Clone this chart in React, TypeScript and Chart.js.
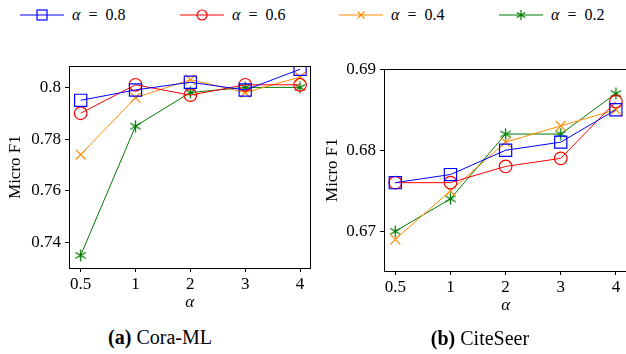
import React, { useEffect, useRef } from "react";
import { Chart, registerables } from "chart.js";

Chart.register(...registerables);

const xLabels = ["0.5", "1", "2", "3", "4"];
const seriesNames = ["α = 0.8", "α = 0.6", "α = 0.4", "α = 0.2"];
const seriesColors = ["#0000ff", "#ff0000", "#ff8c00", "#007a00"];

const coraA08 = [0.795, 0.799, 0.802, 0.799, 0.807];
const coraA06 = [0.79, 0.801, 0.797, 0.801, 0.801];
const coraA04 = [0.774, 0.796, 0.803, 0.798, 0.804];
const coraA02 = [0.735, 0.785, 0.798, 0.8, 0.8];

const citeA08 = [0.676, 0.677, 0.68, 0.681, 0.685];
const citeA06 = [0.676, 0.676, 0.678, 0.679, 0.686];
const citeA04 = [0.669, 0.675, 0.681, 0.683, 0.685];
const citeA02 = [0.67, 0.674, 0.682, 0.682, 0.687];

const coraYTicks = [0.74, 0.76, 0.78, 0.8];
const coraYLabels = ["0.74", "0.76", "0.78", "0.8"];
const citeYTicks = [0.67, 0.68, 0.69];
const citeYLabels = ["0.67", "0.68", "0.69"];

const FONT = "'Liberation Serif', 'DejaVu Serif', serif";

function makeAsterisk(color: string, size: number) {
  const c = document.createElement("canvas");
  c.width = size;
  c.height = size;
  const ctx = c.getContext("2d")!;
  ctx.strokeStyle = color;
  ctx.lineWidth = 1.3;
  const r = size / 2 - 0.5;
  const cx = size / 2;
  const cy = size / 2;
  ctx.beginPath();
  for (let k = 0; k < 3; k++) {
    const a = Math.PI / 2 + (k * Math.PI) / 3;
    ctx.moveTo(cx + r * Math.cos(a), cy + r * Math.sin(a));
    ctx.lineTo(cx - r * Math.cos(a), cy - r * Math.sin(a));
  }
  ctx.stroke();
  return c;
}

const boxPlugin = {
  id: "boxFrame",
  afterDraw(chart: any) {
    const { ctx, chartArea } = chart;
    ctx.save();
    ctx.strokeStyle = "#000";
    ctx.lineWidth = 1;
    ctx.strokeRect(
      Math.round(chartArea.left) + 0.5,
      Math.round(chartArea.top) + 0.5,
      Math.round(chartArea.right - chartArea.left),
      Math.round(chartArea.bottom - chartArea.top)
    );
    ctx.restore();
  },
};

type PanelProps = {
  series: number[][];
  yMin: number;
  yMax: number;
  yTicks: number[];
  yLabels: string[];
  xMin: number;
  xMax: number;
  yWidth: number;
  titlePad: number;
  width: number;
  height: number;
};

function Panel(p: PanelProps) {
  const ref = useRef<HTMLCanvasElement>(null);
  useEffect(() => {
    const star = makeAsterisk(seriesColors[3], 13);
    const styles: any[] = ["rect", "circle", "crossRot", star];
    const radii = [8.6, 6.3, 7, 6.5];
    const datasets = p.series.map((vals, i) => ({
      label: seriesNames[i],
      data: vals.map((v, j) => ({ x: j, y: v })),
      borderColor: seriesColors[i],
      backgroundColor: "rgba(0,0,0,0)",
      borderWidth: 1,
      pointStyle: styles[i],
      pointRadius: radii[i],
      pointBorderWidth: 1.2,
      pointBorderColor: seriesColors[i],
      pointBackgroundColor: "rgba(0,0,0,0)",
      tension: 0,
    }));
    const chart = new Chart(ref.current!, {
      type: "line",
      data: { datasets },
      options: {
        animation: false,
        responsive: false,
        maintainAspectRatio: false,
        layout: { padding: 0 },
        plugins: { legend: { display: false }, tooltip: { enabled: false } },
        scales: {
          x: {
            type: "linear",
            min: p.xMin,
            max: p.xMax,
            afterBuildTicks: (s: any) => {
              s.ticks = xLabels.map((_, i) => ({ value: i }));
            },
            afterFit: (s: any) => {
              s.height = 48;
            },
            ticks: {
              callback: (v: any) => xLabels[v as number] ?? "",
              color: "#000",
              font: { family: FONT, size: 17 },
              padding: 2,
              maxRotation: 0,
            },
            grid: {
              display: true,
              drawOnChartArea: false,
              drawTicks: true,
              tickLength: 4,
              color: "#000",
            },
            border: { display: false },
            title: {
              display: true,
              text: "α",
              color: "#000",
              font: { family: FONT, size: 17, style: "italic" },
              padding: { top: 0, bottom: 3 },
            },
          },
          y: {
            type: "linear",
            min: p.yMin,
            max: p.yMax,
            afterBuildTicks: (s: any) => {
              s.ticks = p.yTicks.map((v) => ({ value: v }));
            },
            afterFit: (s: any) => {
              s.width = p.yWidth;
            },
            ticks: {
              callback: (v: any) => {
                const idx = p.yTicks.findIndex((t) => Math.abs(t - v) < 1e-9);
                return idx >= 0 ? p.yLabels[idx] : "";
              },
              color: "#000",
              font: { family: FONT, size: 17 },
              padding: 4,
            },
            grid: {
              display: true,
              drawOnChartArea: false,
              drawTicks: true,
              tickLength: 4,
              color: "#000",
            },
            border: { display: false },
            title: {
              display: true,
              text: "Micro F1",
              color: "#000",
              font: { family: FONT, size: 17 },
              padding: { top: p.titlePad, bottom: 0 },
            },
          },
        },
      },
      plugins: [boxPlugin],
    });
    return () => chart.destroy();
  }, []);
  return <canvas ref={ref} width={p.width} height={p.height} style={{ width: p.width, height: p.height, display: "block" }} />;
}

function LegendMarker({ idx }: { idx: number }) {
  const c = seriesColors[idx];
  const cx = 22;
  const cy = 10;
  let mark: React.ReactNode = null;
  if (idx === 0) mark = <rect x={cx - 5} y={cy - 5} width={10} height={10} fill="none" stroke={c} strokeWidth={1.2} />;
  if (idx === 1) mark = <circle cx={cx} cy={cy} r={5} fill="none" stroke={c} strokeWidth={1.2} />;
  if (idx === 2)
    mark = (
      <path d={`M${cx - 3.5} ${cy - 3.5} L${cx + 3.5} ${cy + 3.5} M${cx - 3.5} ${cy + 3.5} L${cx + 3.5} ${cy - 3.5}`} stroke={c} strokeWidth={1.2} />
    );
  if (idx === 3) {
    const r = 5;
    let d = "";
    for (let k = 0; k < 3; k++) {
      const a = Math.PI / 2 + (k * Math.PI) / 3;
      d += `M${cx + r * Math.cos(a)} ${cy + r * Math.sin(a)} L${cx - r * Math.cos(a)} ${cy - r * Math.sin(a)} `;
    }
    mark = <path d={d} stroke={c} strokeWidth={1.2} />;
  }
  return (
    <svg width={46} height={20} style={{ display: "block" }}>
      <line x1={0} y1={cy} x2={44} y2={cy} stroke={c} strokeWidth={1.2} />
      {mark}
    </svg>
  );
}

const legendX = [20, 180, 339, 499];

export default function App() {
  useEffect(() => {
    document.body.style.margin = "0";
  }, []);
  return (
    <div style={{ position: "relative", width: 626, height: 354, overflow: "hidden", background: "#fff", fontFamily: FONT }}>
      {seriesNames.map((name, i) => (
        <div key={i} style={{ position: "absolute", left: legendX[i], top: 5, display: "flex", alignItems: "center", height: 20 }}>
          <LegendMarker idx={i} />
          <span style={{ marginLeft: 6, fontSize: 16, color: "#000", whiteSpace: "pre", lineHeight: "20px" }}>
            <i>α</i>{"  =  " + name.split("= ")[1]}
          </span>
        </div>
      ))}
      <div style={{ position: "absolute", left: 0, top: 52 }}>
        <Panel
          series={[coraA08, coraA06, coraA04, coraA02]}
          yMin={0.7301}
          yMax={0.8082}
          yTicks={coraYTicks}
          yLabels={coraYLabels}
          xMin={-0.213}
          xMax={4.185}
          yWidth={69}
          titlePad={5}
          width={320}
          height={264}
        />
      </div>
      <div style={{ position: "absolute", left: 310, top: 55 }}>
        <Panel
          series={[citeA08, citeA06, citeA04, citeA02]}
          yMin={0.6651}
          yMax={0.69}
          yTicks={citeYTicks}
          yLabels={citeYLabels}
          xMin={-0.205}
          xMax={4.205}
          yWidth={74}
          titlePad={12}
          width={327}
          height={264}
        />
      </div>
      <div style={{ position: "absolute", left: 60, width: 200, top: 324, textAlign: "center", fontSize: 20, color: "#000", lineHeight: "26px" }}>
        <b>(a)</b> Cora-ML
      </div>
      <div style={{ position: "absolute", left: 380, width: 200, top: 325, textAlign: "center", fontSize: 20, color: "#000", lineHeight: "26px" }}>
        <b>(b)</b> CiteSeer
      </div>
    </div>
  );
}
